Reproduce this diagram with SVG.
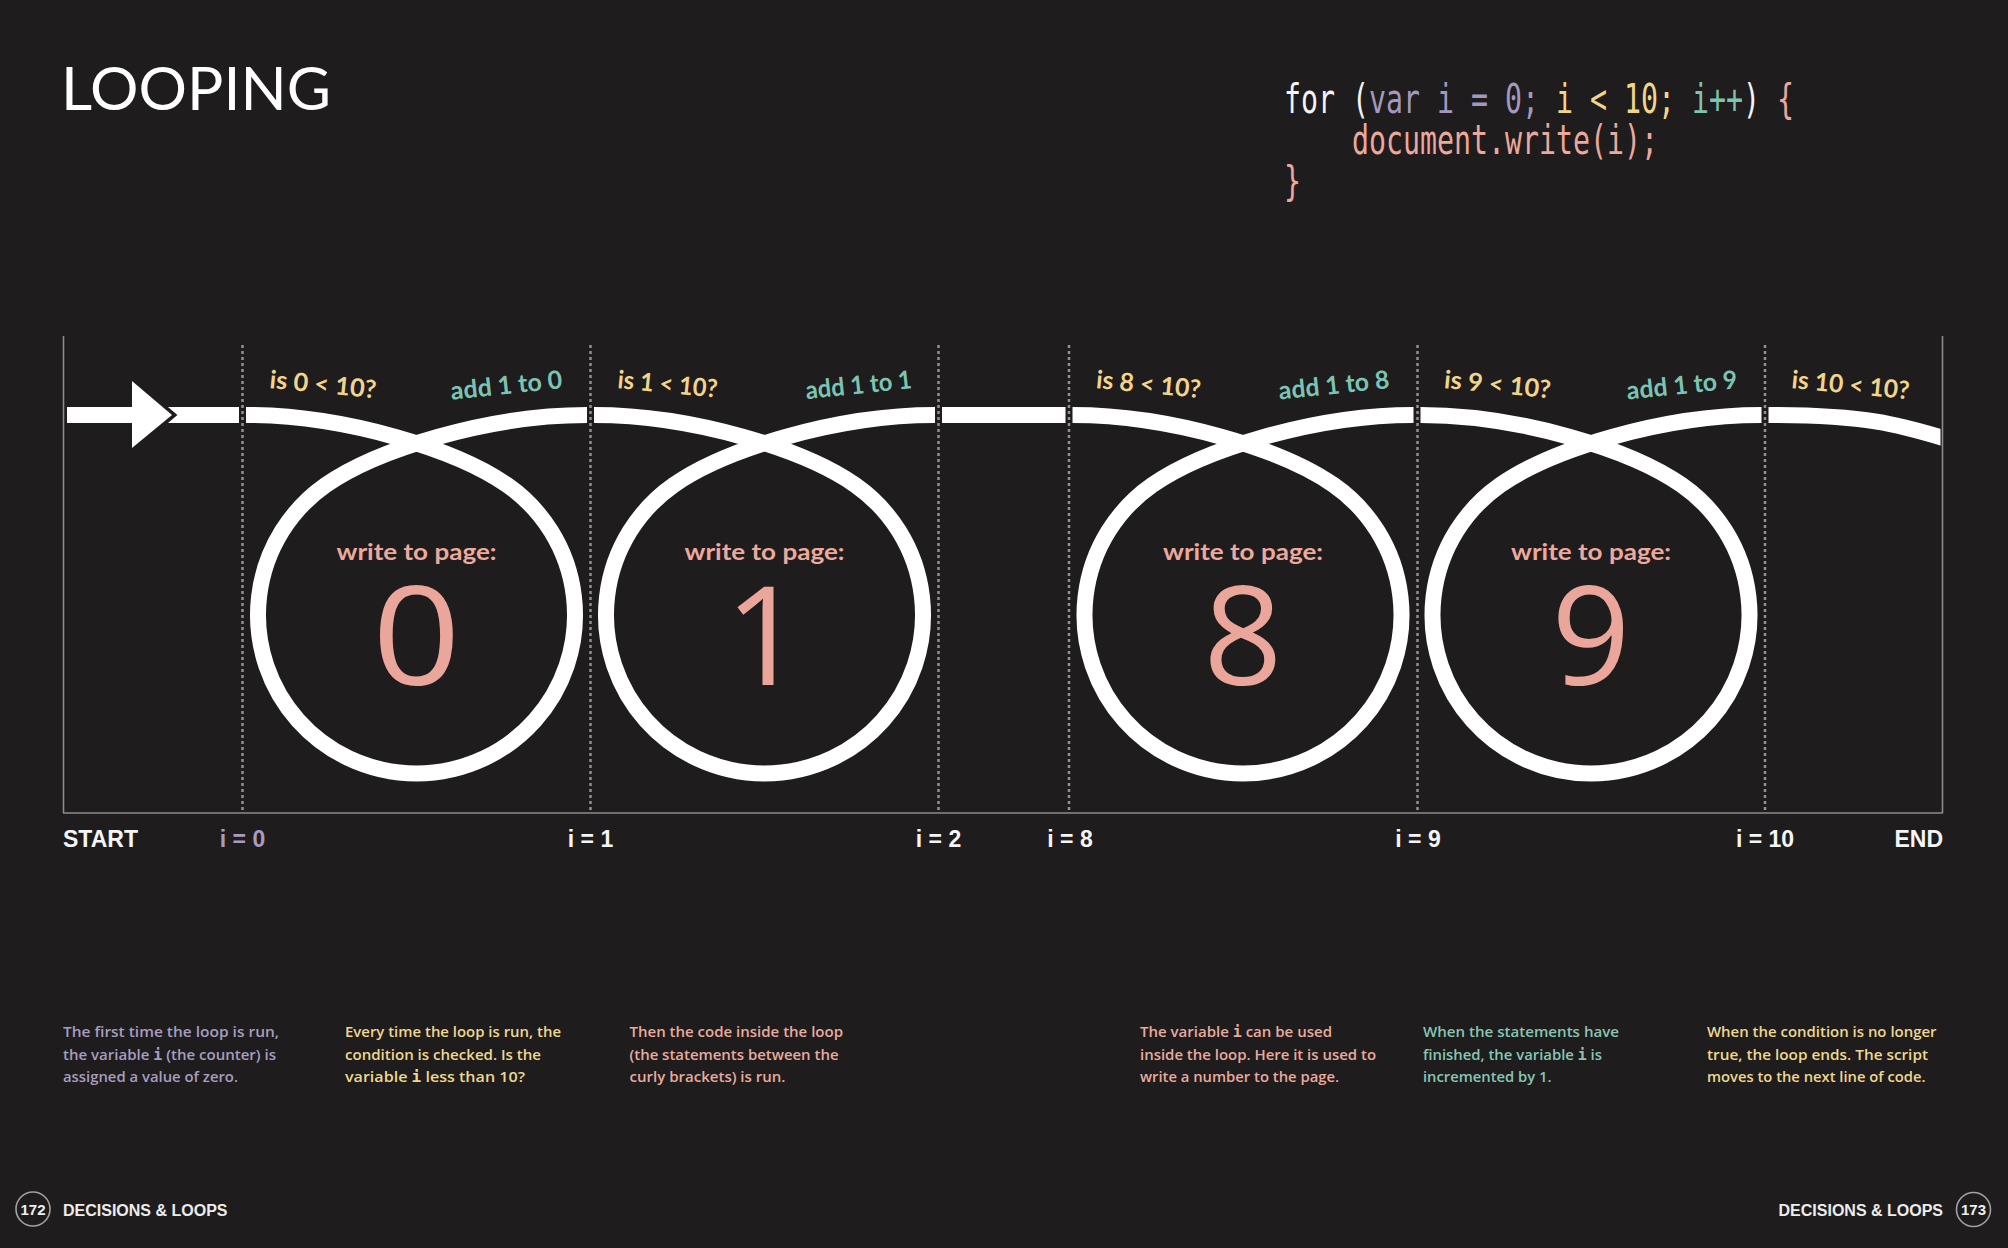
<svg xmlns="http://www.w3.org/2000/svg" width="2008" height="1248" viewBox="0 0 2008 1248">
<defs>
<style>
.frame{stroke:#8d8b8c;stroke-width:1.6;fill:none}
.dot{stroke:#939192;stroke-width:2.5;stroke-dasharray:3 3;fill:none}
.track{fill:none;stroke:#ffffff;stroke-width:16}
.band{fill:#ffffff}
.lbl{font-family:Lato,"Open Sans","Liberation Sans",sans-serif;font-weight:700;font-size:25px}
.q{fill:#f2d48b}
.add{fill:#7cc4b2}
.wtp{font-family:Lato,"Open Sans","Liberation Sans",sans-serif;font-weight:700;font-size:23px;fill:#eea99d;text-anchor:middle}
.big{font-family:"Open Sans",Lato,"Liberation Sans",sans-serif;font-weight:400;font-size:138px;fill:#eaa69b;text-anchor:middle}
.axis{font-family:"Liberation Sans",Arial,sans-serif;font-weight:700;font-size:23px;fill:#f5f5f5}
.mid{text-anchor:middle}
.desc{font-family:"Open Sans","Liberation Sans",Arial,sans-serif;font-weight:600;font-size:15px}
.var{font-family:"DejaVu Sans Mono",monospace;font-weight:700}
.code{font-family:"DejaVu Sans Mono","Liberation Mono",monospace;font-size:41px}
.foot{font-family:"Liberation Sans",Arial,sans-serif;font-weight:700;font-size:16px;fill:#ececec}
.pg{fill:none;stroke:#a3a1a2;stroke-width:1.6}
.pgt{font-family:"Liberation Sans",Arial,sans-serif;font-weight:700;font-size:15px;fill:#f0f0f0;text-anchor:middle}
.cw{fill:#f4f4f4}.cl{fill:#a498bc}.cy{fill:#f3d587}.ct{fill:#7fc4ae}.cs{fill:#eba89b}
.dl{fill:#a89cc0}.dy{fill:#efd78e}.ds{fill:#e9aa9e}.dt{fill:#88c6b4}
</style>
<path id="loop" d="M-170.5,415 C-70.5,415 40.95,450.15 90.91,485.16 A158.5,158.5 0 1 1 -90.91,485.16 C-40.95,450.15 70.5,415 170.5,415"/>
<clipPath id="endclip"><rect x="1760" y="380" width="180.5" height="120"/></clipPath>
</defs>
<rect width="2008" height="1248" fill="#1e1c1d"/>

<g id="title">
<text x="61" y="110" font-family="Lato,'Open Sans','Liberation Sans',sans-serif" font-weight="400" font-size="60" fill="#ffffff" textLength="270" lengthAdjust="spacingAndGlyphs">LOOPING</text>
</g>

<g id="code" class="code" transform="translate(1284,0) scale(0.689,1)">
<text x="0" y="113"><tspan class="cw">for (</tspan><tspan class="cl">var i = 0; </tspan><tspan class="cy">i &lt; 10; </tspan><tspan class="ct">i++</tspan><tspan class="cw">) </tspan><tspan class="cs">{</tspan></text>
<text x="98.7" y="154" class="cs">document.write(i);</text>
<text x="0" y="195" class="cs">}</text>
</g>

<g id="frame">
<line class="frame" x1="63.5" y1="336" x2="63.5" y2="813"/>
<line class="frame" x1="1942.5" y1="336" x2="1942.5" y2="813"/>
<line class="frame" x1="63" y1="813" x2="1943" y2="813"/>
<line class="dot" x1="242.5" y1="345" x2="242.5" y2="812"/>
<line class="dot" x1="590.5" y1="345" x2="590.5" y2="812"/>
<line class="dot" x1="938.5" y1="345" x2="938.5" y2="812"/>
<line class="dot" x1="1069" y1="345" x2="1069" y2="812"/>
<line class="dot" x1="1417.5" y1="345" x2="1417.5" y2="812"/>
<line class="dot" x1="1765" y1="345" x2="1765" y2="812"/>
</g>

<g id="connectors">
<rect class="band" x="67" y="407" width="83" height="16"/>
<polygon class="band" points="132,381 172,415 132,448"/>
<polygon class="band" points="168,407 239,407 239,423 168,423 177.4,415"/>
<rect class="band" x="942" y="407" width="123.5" height="16"/>
<g clip-path="url(#endclip)"><path class="track" d="M1768.5,415 C1868.5,415 1900,425 1950,440"/></g>
<text class="lbl q" x="1791" y="388" textLength="118" lengthAdjust="spacingAndGlyphs" transform="rotate(5.5 1791 388)">is 10 &lt; 10?</text>
</g>

<g id="loop-0">
<use href="#loop" class="track" transform="translate(416.5,0)"/>
<text class="lbl q" x="269" y="388" textLength="107" lengthAdjust="spacingAndGlyphs" transform="rotate(5.5 269 388)">is 0 &lt; 10?</text>
<text class="lbl add" x="451" y="388" textLength="112" lengthAdjust="spacingAndGlyphs" transform="rotate(-6 563 388)">add 1 to 0</text>
<text class="wtp" x="416.5" y="560" textLength="160" lengthAdjust="spacingAndGlyphs">write to page:</text>
<text class="big" x="416.5" y="685" transform="translate(416.5,0) scale(1.12,1) translate(-416.5,0)">0</text>
</g>

<g id="loop-1">
<use href="#loop" class="track" transform="translate(764.5,0)"/>
<text class="lbl q" x="617" y="388" textLength="100" lengthAdjust="spacingAndGlyphs" transform="rotate(5.5 617 388)">is 1 &lt; 10?</text>
<text class="lbl add" x="806" y="388" textLength="106.5" lengthAdjust="spacingAndGlyphs" transform="rotate(-6 912.5 388)">add 1 to 1</text>
<text class="wtp" x="764.5" y="560" textLength="160" lengthAdjust="spacingAndGlyphs">write to page:</text>
<text class="big" x="764.5" y="685">1</text>
</g>

<g id="loop-8">
<use href="#loop" class="track" transform="translate(1243,0)"/>
<text class="lbl q" x="1095.5" y="388" textLength="105" lengthAdjust="spacingAndGlyphs" transform="rotate(5.5 1095.5 388)">is 8 &lt; 10?</text>
<text class="lbl add" x="1279" y="388" textLength="111" lengthAdjust="spacingAndGlyphs" transform="rotate(-6 1390 388)">add 1 to 8</text>
<text class="wtp" x="1243" y="560" textLength="160" lengthAdjust="spacingAndGlyphs">write to page:</text>
<text class="big" x="1243" y="685">8</text>
</g>

<g id="loop-9">
<use href="#loop" class="track" transform="translate(1591,0)"/>
<text class="lbl q" x="1443.5" y="388" textLength="107" lengthAdjust="spacingAndGlyphs" transform="rotate(5.5 1443.5 388)">is 9 &lt; 10?</text>
<text class="lbl add" x="1627" y="388" textLength="111" lengthAdjust="spacingAndGlyphs" transform="rotate(-6 1738 388)">add 1 to 9</text>
<text class="wtp" x="1591" y="560" textLength="160" lengthAdjust="spacingAndGlyphs">write to page:</text>
<text class="big" x="1591" y="685">9</text>
</g>

<g id="axis-labels" class="axis">
<text x="63" y="847">START</text>
<text class="mid dl" x="242.5" y="847">i = 0</text>
<text class="mid" x="590.5" y="847">i = 1</text>
<text class="mid" x="938.5" y="847">i = 2</text>
<text class="mid" x="1070" y="847">i = 8</text>
<text class="mid" x="1418" y="847">i = 9</text>
<text class="mid" x="1765" y="847">i = 10</text>
<text x="1943" y="847" text-anchor="end">END</text>
</g>

<g id="desc-1" class="desc dl">
<text x="63" y="1037" textLength="216" lengthAdjust="spacingAndGlyphs">The first time the loop is run,</text>
<text x="63" y="1059.5" textLength="213" lengthAdjust="spacingAndGlyphs">the variable <tspan class="var">i</tspan> (the counter) is</text>
<text x="63" y="1082" textLength="175" lengthAdjust="spacingAndGlyphs">assigned a value of zero.</text>
</g>
<g id="desc-2" class="desc dy">
<text x="345" y="1037" textLength="216" lengthAdjust="spacingAndGlyphs">Every time the loop is run, the</text>
<text x="345" y="1059.5" textLength="196" lengthAdjust="spacingAndGlyphs">condition is checked. Is the</text>
<text x="345" y="1082" textLength="180" lengthAdjust="spacingAndGlyphs">variable <tspan class="var">i</tspan> less than 10?</text>
</g>
<g id="desc-3" class="desc ds">
<text x="629.5" y="1037" textLength="213.5" lengthAdjust="spacingAndGlyphs">Then the code inside the loop</text>
<text x="629.5" y="1059.5" textLength="209" lengthAdjust="spacingAndGlyphs">(the statements between the</text>
<text x="629.5" y="1082" textLength="156" lengthAdjust="spacingAndGlyphs">curly brackets) is run.</text>
</g>
<g id="desc-4" class="desc ds">
<text x="1140" y="1037" textLength="192" lengthAdjust="spacingAndGlyphs">The variable <tspan class="var">i</tspan> can be used</text>
<text x="1140" y="1059.5" textLength="236" lengthAdjust="spacingAndGlyphs">inside the loop. Here it is used to</text>
<text x="1140" y="1082" textLength="199" lengthAdjust="spacingAndGlyphs">write a number to the page.</text>
</g>
<g id="desc-5" class="desc dt">
<text x="1423" y="1037" textLength="196" lengthAdjust="spacingAndGlyphs">When the statements have</text>
<text x="1423" y="1059.5" textLength="179" lengthAdjust="spacingAndGlyphs">finished, the variable <tspan class="var">i</tspan> is</text>
<text x="1423" y="1082" textLength="128.5" lengthAdjust="spacingAndGlyphs">incremented by 1.</text>
</g>
<g id="desc-6" class="desc dy">
<text x="1707" y="1037" textLength="229.5" lengthAdjust="spacingAndGlyphs">When the condition is no longer</text>
<text x="1707" y="1059.5" textLength="221" lengthAdjust="spacingAndGlyphs">true, the loop ends. The script</text>
<text x="1707" y="1082" textLength="218.5" lengthAdjust="spacingAndGlyphs">moves to the next line of code.</text>
</g>

<g id="footer-left">
<circle class="pg" cx="33" cy="1209" r="17"/>
<text class="pgt" x="33" y="1214.5">172</text>
<text class="foot" x="63" y="1216">DECISIONS &amp; LOOPS</text>
</g>
<g id="footer-right">
<circle class="pg" cx="1973.5" cy="1209.5" r="17"/>
<text class="pgt" x="1973.5" y="1215">173</text>
<text class="foot" x="1943" y="1216" text-anchor="end">DECISIONS &amp; LOOPS</text>
</g>
</svg>
